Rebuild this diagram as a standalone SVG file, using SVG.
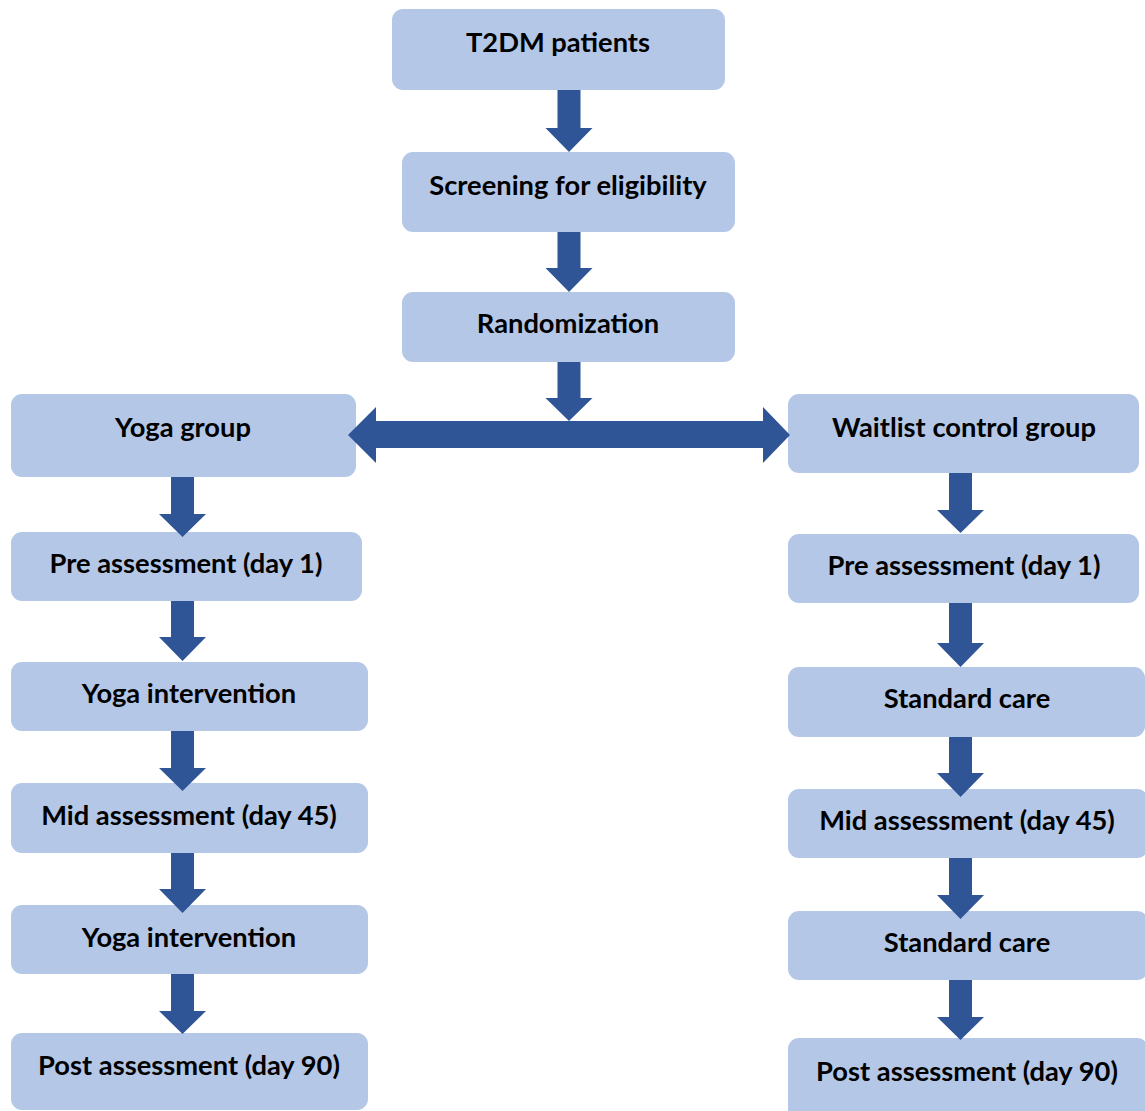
<svg xmlns="http://www.w3.org/2000/svg" width="1145" height="1111" viewBox="0 0 1145 1111">
<style>
.box{fill:#B4C7E7;}
.lbl{font-family:Lato,"Open Sans","Liberation Sans",sans-serif;font-weight:700;font-size:27.3px;fill:#000;text-anchor:middle;}
.arr{fill:#2F5597;}
</style>
<rect width="1145" height="1111" fill="#ffffff"/>
<g id="nodes">
<g id="n-t2dm"><rect class="box" x="392" y="9" width="333" height="81" rx="11"/><text class="lbl" x="558" y="52">T2DM patients</text></g>
<g id="n-screening"><rect class="box" x="402" y="152" width="333" height="80" rx="11"/><text class="lbl" x="568" y="195">Screening for eligibility</text></g>
<g id="n-random"><rect class="box" x="402" y="292" width="333" height="70" rx="11"/><text class="lbl" x="568" y="333">Randomization</text></g>
<g id="n-yoga"><rect class="box" x="11" y="394" width="345" height="83" rx="11"/><text class="lbl" x="183" y="437">Yoga group</text></g>
<g id="n-waitlist"><rect class="box" x="788" y="394" width="351" height="79" rx="11"/><text class="lbl" x="964" y="437">Waitlist control group</text></g>
<g id="n-pre-l"><rect class="box" x="11" y="532" width="351" height="69" rx="11"/><text class="lbl" x="186" y="573">Pre assessment (day 1)</text></g>
<g id="n-pre-r"><rect class="box" x="788" y="534" width="351" height="69" rx="11"/><text class="lbl" x="964" y="575">Pre assessment (day 1)</text></g>
<g id="n-yint1"><rect class="box" x="11" y="662" width="357" height="69" rx="11"/><text class="lbl" x="189" y="703">Yoga intervention</text></g>
<g id="n-std1"><rect class="box" x="788" y="667" width="357" height="70" rx="11"/><text class="lbl" x="967" y="708">Standard care</text></g>
<g id="n-mid-l"><rect class="box" x="11" y="783" width="357" height="70" rx="11"/><text class="lbl" x="189" y="825">Mid assessment (day 45)</text></g>
<g id="n-mid-r"><rect class="box" x="788" y="789" width="360" height="69" rx="11"/><text class="lbl" x="967" y="830">Mid assessment (day 45)</text></g>
<g id="n-yint2"><rect class="box" x="11" y="905" width="357" height="69" rx="11"/><text class="lbl" x="189" y="947">Yoga intervention</text></g>
<g id="n-std2"><rect class="box" x="788" y="911" width="360" height="69" rx="11"/><text class="lbl" x="967" y="952">Standard care</text></g>
<g id="n-post-l"><rect class="box" x="11" y="1033" width="357" height="77" rx="11"/><text class="lbl" x="189" y="1075">Post assessment (day 90)</text></g>
<g id="n-post-r"><rect class="box" x="788" y="1038" width="360" height="85" rx="11"/><text class="lbl" x="967" y="1081">Post assessment (day 90)</text></g>
</g>
<g id="connectors" class="arr">
<polygon points="557.5,90 580.5,90 580.5,128 592.5,128 569,152 545.5,128 557.5,128"/>
<polygon points="557.5,232 580.5,232 580.5,268 592.5,268 569,292 545.5,268 557.5,268"/>
<polygon points="557.5,362 580.5,362 580.5,398 592.5,398 569,421 545.5,398 557.5,398"/>
<polygon points="348,435 376,407 376,421 763,421 763,407 790,435 763,463 763,448 376,448 376,463"/>
<polygon points="171,477 194,477 194,514 206,514 182.5,537 159,514 171,514"/>
<polygon points="171,601 194,601 194,637 206,637 182.5,661 159,637 171,637"/>
<polygon points="171,731 194,731 194,768 206,768 182.5,791 159,768 171,768"/>
<polygon points="171,853 194,853 194,889 206,889 182.5,913 159,889 171,889"/>
<polygon points="171,974 194,974 194,1011 206,1011 182.5,1034 159,1011 171,1011"/>
<polygon points="949,473 972,473 972,510 984,510 960.5,533 937,510 949,510"/>
<polygon points="949,603 972,603 972,643 984,643 960.5,667 937,643 949,643"/>
<polygon points="949,737 972,737 972,773 984,773 960.5,797 937,773 949,773"/>
<polygon points="949,858 972,858 972,895 984,895 960.5,919 937,895 949,895"/>
<polygon points="949,980 972,980 972,1017 984,1017 960.5,1040 937,1017 949,1017"/>
</g>
</svg>
